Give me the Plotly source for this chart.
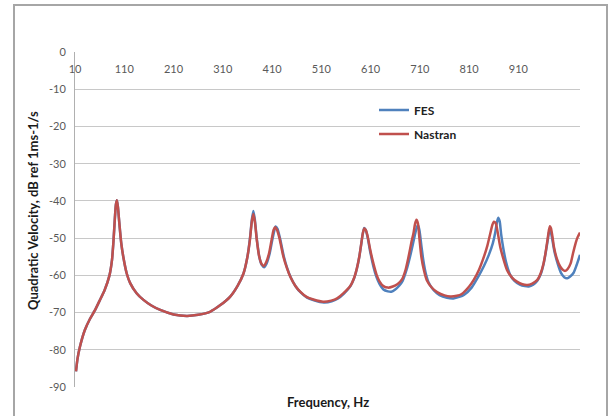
import plotly.graph_objects as go

# Nastran (red) spectrum
nastran_f = [12, 15, 20, 30, 40, 50, 60, 70, 80, 85, 88, 91, 93, 95, 97, 100, 104, 108, 115, 122,
             135, 149, 165, 183, 210, 237, 260, 284, 305, 325, 340, 352, 360, 365, 369, 372, 375, 379,
             384, 389, 393, 398, 404, 409, 413, 416, 420, 425, 433, 440, 447, 457, 467, 480, 494, 514,
             530, 542, 555, 569, 577, 582, 587, 591, 594, 597, 600, 604, 609, 616, 622, 628, 636, 645,
             655, 665, 674, 681, 687, 693, 697, 700, 703, 706, 709, 713, 718, 724, 735, 745, 760, 772,
             785, 795, 810, 819, 830, 840, 847, 853, 857, 860, 864, 868, 873, 880, 887, 897, 907, 918,
             928, 938, 948, 955, 961, 965, 969, 972, 974, 976, 979, 982, 988, 995, 1000, 1005, 1010,
             1016, 1021, 1026, 1030, 1035]
nastran_db = [-85.8, -82.5, -79.2, -74.7, -71.8, -69.5, -66.8, -64.0, -60.0, -56.0, -51.0, -44.5, -41.0,
              -39.8, -41.5, -46.0, -51.5, -55.0, -59.5, -62.1, -64.8, -66.6, -68.1, -69.3, -70.5, -70.9,
              -70.6, -69.8, -68.0, -65.7, -62.8, -59.5, -55.0, -50.5, -45.5, -43.5, -45.5, -50.5, -55.0,
              -57.0, -57.5, -56.5, -54.0, -50.5, -47.8, -47.1, -47.8, -50.0, -55.0, -58.0, -60.4, -62.8,
              -64.4, -65.8, -66.5, -67.1, -66.8, -66.2, -64.8, -62.8, -60.5, -58.2, -55.0, -51.5, -48.8,
              -47.4, -47.8, -49.5, -53.0, -57.0, -59.8, -61.6, -62.9, -63.3, -63.0, -62.3, -61.0, -58.5,
              -55.0, -51.0, -48.7, -46.3, -45.1, -46.0, -50.0, -55.0, -58.5, -61.3, -63.4, -64.5, -65.4,
              -65.7, -65.5, -65.0, -63.0, -61.3, -58.5, -55.0, -52.0, -48.7, -46.5, -45.6, -46.0, -48.5,
              -52.3, -55.8, -58.6, -60.6, -61.7, -62.4, -62.6, -62.2, -61.3, -59.5, -56.8, -54.0, -50.5,
              -47.8, -46.8, -47.3, -49.5, -52.3, -55.5, -57.7, -58.5, -58.8, -58.3, -56.8, -54.0, -51.4,
              -49.8, -48.5]

# FES (blue) spectrum
fes_f = [12, 15, 20, 30, 40, 50, 60, 70, 80, 85, 88, 91, 93, 95, 97, 100, 104, 108, 115, 122,
         135, 149, 165, 183, 210, 237, 260, 284, 305, 325, 340, 352, 360, 365, 369, 372, 375, 379,
         384, 389, 394, 399, 405, 410, 414, 417, 421, 426, 434, 441, 448, 458, 468, 481, 495, 515,
         531, 543, 556, 569, 577, 582, 587, 591, 594, 597, 600, 604, 609, 616, 622, 628, 636, 645,
         652, 660, 668, 675, 683, 690, 696, 701, 704, 706, 709, 713, 717, 722, 728, 738, 750, 765,
         778, 790, 800, 815, 828, 840, 850, 858, 863, 866, 869, 872, 875, 879, 885, 893, 902, 913,
         923, 931, 940, 948, 955, 961, 965, 969, 972, 974, 976, 979, 983, 990, 997, 1003, 1009,
         1015, 1022, 1028, 1035]
fes_db = [-85.8, -82.5, -79.2, -74.7, -71.8, -69.5, -66.8, -64.0, -60.0, -56.0, -51.0, -44.5, -41.0,
          -39.8, -41.5, -46.0, -51.5, -55.0, -59.5, -62.1, -64.8, -66.6, -68.1, -69.3, -70.5, -70.9,
          -70.6, -69.8, -68.0, -65.7, -62.8, -59.5, -55.0, -50.2, -45.0, -42.7, -45.0, -50.2, -55.0,
          -57.2, -57.8, -56.8, -54.2, -50.8, -48.3, -46.9, -47.5, -50.0, -55.0, -58.2, -60.6, -63.0,
          -64.6, -66.0, -66.7, -67.3, -67.0, -66.3, -64.9, -62.9, -60.6, -58.3, -55.1, -51.6, -48.9,
          -47.3, -47.8, -49.8, -53.5, -57.8, -60.5, -62.3, -63.8, -64.3, -64.4, -63.8, -62.8, -61.5,
          -58.5, -55.0, -51.5, -48.5, -47.0, -46.5, -47.8, -52.0, -56.0, -59.5, -62.0, -64.0, -65.3,
          -66.0, -66.2, -65.8, -65.2, -63.3, -60.5, -57.5, -54.5, -51.4, -48.5, -46.0, -44.5, -45.5,
          -49.0, -52.5, -56.5, -59.8, -61.5, -62.5, -62.9, -63.0, -62.5, -61.5, -59.8, -57.0, -54.2,
          -51.0, -48.5, -47.8, -48.5, -50.5, -53.5, -57.0, -59.5, -60.5, -60.8, -60.3, -59.3, -57.3,
          -54.5]

x_ticks = [10, 110, 210, 310, 410, 510, 610, 710, 810, 910]
y_ticks = [0, -10, -20, -30, -40, -50, -60, -70, -80, -90]

FONT = "Lato"
GRAY_TXT = "#595959"

fig = go.Figure()
fig.add_trace(go.Scatter(x=fes_f, y=fes_db, mode="lines", name="FES",
                         line=dict(color="#4F81BD", width=2.5, shape="spline", smoothing=0.6),
                         legend="legend"))
fig.add_trace(go.Scatter(x=nastran_f, y=nastran_db, mode="lines", name="Nastran",
                         line=dict(color="#C0504D", width=2.5, shape="spline", smoothing=0.6),
                         legend="legend2"))

# plot area in page pixels: x 75..580, y 52..387
PW, PH = 505.0, 335.0
def px_x(p):
    return (p - 75) / PW
def px_y(p):
    return (387 - p) / PH

fig.update_layout(
    width=614, height=416,
    margin=dict(l=75, r=34, t=52, b=29, autoexpand=False),
    paper_bgcolor="white", plot_bgcolor="white",
    font=dict(family=FONT, color=GRAY_TXT),
    showlegend=True,
    legend=dict(x=px_x(374), y=px_y(110), xanchor="left", yanchor="middle",
                bgcolor="rgba(0,0,0,0)",
                font=dict(family=FONT, size=12, color="#222222", weight="bold")),
    legend2=dict(x=px_x(374), y=px_y(134), xanchor="left", yanchor="middle",
                 bgcolor="rgba(0,0,0,0)",
                 font=dict(family=FONT, size=12, color="#222222", weight="bold")),
    xaxis=dict(range=[10, 1035], side="top", tickvals=x_ticks,
               ticktext=[str(v) for v in x_ticks], automargin=False,
               ticks="inside", ticklen=13, tickcolor="rgba(0,0,0,0)",
               ticklabelposition="inside", ticklabeloverflow="allow",
               tickfont=dict(family=FONT, size=11, color=GRAY_TXT),
               showgrid=False, zeroline=False, showline=False),
    yaxis=dict(range=[-90, 0], tickvals=y_ticks, ticktext=[str(v) for v in y_ticks],
               showgrid=True, gridcolor="#C8C8C8", gridwidth=1, automargin=False,
               zeroline=False, showline=True, linecolor="#B0B0B0", linewidth=1,
               ticks="", tickfont=dict(family=FONT, size=11, color=GRAY_TXT),
               ticklabelstandoff=6),
)

fig.add_annotation(text="Frequency, Hz", x=0.5, y=px_y(402), xref="paper", yref="paper",
                   showarrow=False, xanchor="center", yanchor="middle",
                   font=dict(family=FONT, size=13, color="#1a1a1a", weight="bold"))
fig.add_annotation(text="Quadratic Velocity, dB ref 1ms-1/s", x=px_x(33), y=px_y(211),
                   xref="paper", yref="paper", textangle=-90, showarrow=False,
                   xanchor="center", yanchor="middle",
                   font=dict(family=FONT, size=13, color="#1a1a1a", weight="bold"))

# chart border
fig.add_shape(type="rect", xref="paper", yref="paper",
              x0=px_x(14), x1=px_x(607), y0=px_y(430), y1=px_y(5),
              line=dict(color="#A6A6A6", width=2), layer="below")

fig.write_html("out.html", config={"displayModeBar": False},
               post_script="document.body.style.margin='0';")
